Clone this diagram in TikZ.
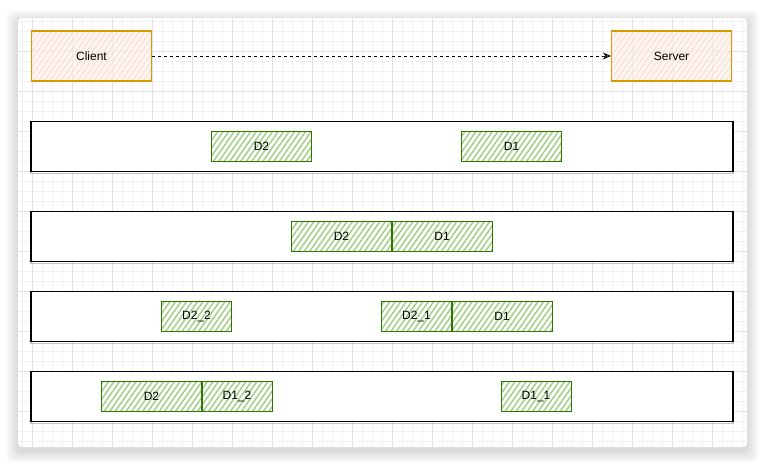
\documentclass[tikz,border=0pt]{standalone}
\usepackage{fontspec}
\setmainfont{Liberation Sans}
\usetikzlibrary{arrows.meta,patterns.meta}
\definecolor{grnline}{HTML}{2D7600}
\definecolor{grnhatch}{HTML}{A3CF85}
\definecolor{orgline}{HTML}{D79B00}
\definecolor{orghatch}{HTML}{F9E3D6}
\definecolor{orgfill}{HTML}{FCF1EA}
\definecolor{gridminor}{HTML}{F2F2F2}
\definecolor{gridmajor}{HTML}{E2E2E2}
\begin{document}
\begin{tikzpicture}[x=1pt,y=-1pt,
  lbl/.style={font=\fontsize{12}{14}\selectfont},
  greenbox/.style={lbl, draw=grnline, line width=1pt, inner sep=0pt,
    minimum height=30, pattern={Lines[angle=55,distance=4.5pt,line width=1.5pt]},
    pattern color=grnhatch},
  orangebox/.style={lbl, draw=orgline, line width=1.2pt, inner sep=0pt,
    minimum width=120, minimum height=50,
    preaction={fill=orgfill, fill opacity=0.6},
    pattern={Lines[angle=55,distance=4.5pt,line width=1.3pt]},
    pattern color=orghatch},
  barbox/.style={draw=black, line width=1.1pt, fill=white, inner sep=0pt,
    minimum width=702, minimum height=50,
    preaction={draw=black!45, line width=1.2pt, opacity=0.5, transform canvas={yshift=-2pt}}},
  link/.style={draw=black, line width=0.9pt, dash pattern=on 3pt off 3pt,
    -{Stealth[open,length=8pt,width=7pt,line width=1pt]}}
]
\useasboundingbox (0,0) rectangle (765,466);
% card shadow
\foreach \i in {1,...,12}{
  \fill[black, opacity=0.012, rounded corners=6]
    (18-\i,18-\i+4) rectangle (747+\i,447+\i+4);
}
\fill[white, rounded corners=4] (18,18) rectangle (747,447);
% grid
\begin{scope}
  \clip[rounded corners=4] (18,18) rectangle (747,447);
  \foreach \x in {22,32,...,742} \draw[gridminor, line width=0.6pt] (\x,18) -- (\x,447);
  \foreach \y in {21.5,31.5,...,441.5} \draw[gridminor, line width=0.6pt] (18,\y) -- (747,\y);
  \foreach \x in {32,72,...,712} \draw[gridmajor, line width=0.7pt] (\x,18) -- (\x,447);
  \foreach \y in {51.5,91.5,...,411.5} \draw[gridmajor, line width=0.7pt] (18,\y) -- (747,\y);
\end{scope}
% client / server
\node[orangebox] (client) at (91.5,56) {Client};
\node[orangebox] (server) at (671.5,56) {Server};
\draw[link] (client) -- (server);
% bars
\node[barbox] (bar1) at (382,146.5) {};
\node[barbox] (bar2) at (382,236.5) {};
\node[barbox] (bar3) at (382,316.5) {};
\node[barbox] (bar4) at (382,396.5) {};
% bar 1
\node[greenbox, minimum width=100] (b1d2) at (261.5,146.5) {D2};
\node[greenbox, minimum width=100] (b1d1) at (511.5,146.5) {D1};
% bar 2
\node[greenbox, minimum width=100] (b2d2) at (341.5,236.5) {D2};
\node[greenbox, minimum width=100] (b2d1) at (442,236.5) {D1};
% bar 3
\node[greenbox, minimum width=70] (b3d22) at (196.5,316.5) {D2\_2};
\node[greenbox, minimum width=70] (b3d21) at (416.5,316.5) {D2\_1};
\node[greenbox, minimum width=100] (b3d1) at (502,316.5) {D1};
% bar 4
\node[greenbox, minimum width=100] (b4d2) at (151.5,396.5) {D2};
\node[greenbox, minimum width=70] (b4d12) at (237,396.5) {D1\_2};
\node[greenbox, minimum width=70] (b4d11) at (536,396.5) {D1\_1};
\end{tikzpicture}
\end{document}
